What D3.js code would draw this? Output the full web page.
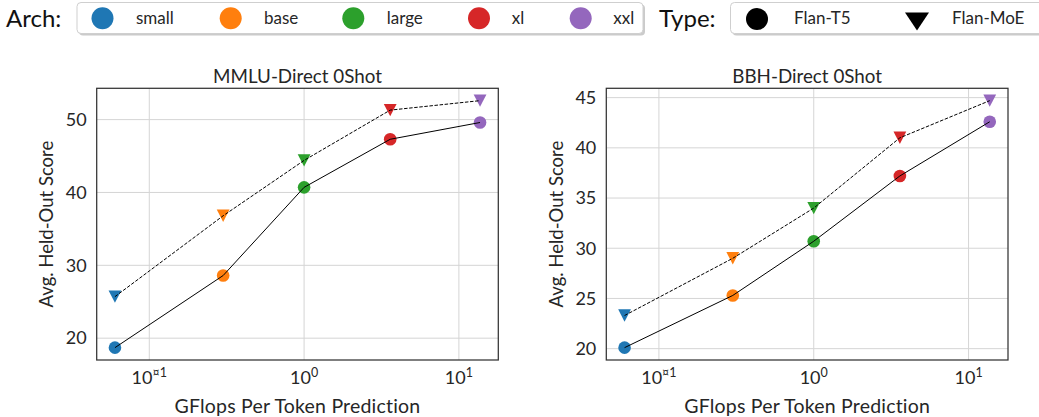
<!DOCTYPE html>
<html><head><meta charset="utf-8">
<script src="https://cdn.jsdelivr.net/npm/d3@7"></script>
<style>
html,body{margin:0;padding:0;background:#fff;}
svg{display:block;font-family:Lato, "Open Sans", sans-serif;}
</style></head>
<body><svg id="c" width="1039" height="417"></svg>
<script>
// ---- data ----
const archs = ["small", "base", "large", "xl", "xxl"];
const archColors = ["#1f77b4", "#ff7f0e", "#2ca02c", "#d62728", "#9467bd"];
const gflops = [0.06, 0.30, 1.0, 3.6, 13.7];
const types = ["Flan-T5", "Flan-MoE"];
const mmluT5 = [18.7, 28.6, 40.7, 47.3, 49.6];
const mmluMoE = [25.7, 36.8, 44.4, 51.3, 52.6];
const bbhT5 = [20.1, 25.3, 30.7, 37.2, 42.6];
const bbhMoE = [23.3, 29.0, 34.0, 41.0, 44.7];
const xTickValues = [0.1, 1, 10];
const xTickExps = ["¤1", "0", "1"];
const mmluYTicks = [20, 30, 40, 50];
const bbhYTicks = [20, 25, 30, 35, 40, 45];
const titles = ["MMLU-Direct 0Shot", "BBH-Direct 0Shot"];
const xLabel = "GFlops Per Token Prediction";
const yLabel = "Avg. Held-Out Score";

(function () {
const svg = d3.select("#c");
const textCol = "#262626";

function pad(lo, hi, m) { const r = hi - lo; return [lo - r * m, hi + r * m]; }

const panels = [
  {title: titles[0], t5: mmluT5, moe: mmluMoE, yTicks: mmluYTicks, left: 96.7, right: 498.3},
  {title: titles[1], t5: bbhT5, moe: bbhMoE, yTicks: bbhYTicks, left: 606.3, right: 1008}
];
const pTop = 88.3, pBottom = 360;

const lx = pad(Math.log10(d3.min(gflops)), Math.log10(d3.max(gflops)), 0.05);

panels.forEach(p => {
  const x = d3.scaleLog().domain([Math.pow(10, lx[0]), Math.pow(10, lx[1])]).range([p.left, p.right]);
  const all = p.t5.concat(p.moe);
  const y = d3.scaleLinear().domain(pad(d3.min(all), d3.max(all), 0.05)).range([pBottom, pTop]);
  const g = svg.append("g");
  // grid
  g.selectAll(".gx").data(xTickValues).join("line")
    .attr("x1", d => x(d)).attr("x2", d => x(d)).attr("y1", pTop).attr("y2", pBottom)
    .attr("stroke", "#d5d5d5").attr("stroke-width", 1);
  g.selectAll(".gy").data(p.yTicks).join("line")
    .attr("x1", p.left).attr("x2", p.right).attr("y1", d => y(d)).attr("y2", d => y(d))
    .attr("stroke", "#d5d5d5").attr("stroke-width", 1);
  // y tick labels
  g.selectAll(".yt").data(p.yTicks).join("text")
    .attr("x", p.left - 10).attr("y", d => y(d)).attr("dy", "0.35em")
    .attr("text-anchor", "end").attr("font-size", 18).attr("fill", textCol).text(d => d);
  // x tick labels
  xTickValues.forEach((v, i) => {
    const t = g.append("text").attr("x", x(v)).attr("y", 384).attr("text-anchor", "middle")
      .attr("font-size", 18).attr("fill", textCol);
    t.append("tspan").text("10");
    t.append("tspan").attr("dy", -7.5).attr("font-size", 12.5).text(xTickExps[i]);
  });
  // title
  g.append("text").attr("x", (p.left + p.right) / 2).attr("y", 82.5).attr("text-anchor", "middle")
    .attr("font-size", 18.8).attr("fill", textCol).text(p.title);
  // x label
  g.append("text").attr("x", (p.left + p.right) / 2).attr("y", 412.5).attr("text-anchor", "middle")
    .attr("font-size", 19.5).attr("letter-spacing", 0.2).attr("fill", textCol).text(xLabel);
  // y label
  g.append("text").attr("transform", `translate(${p.left - 43.5},${(pTop + pBottom) / 2}) rotate(-90)`)
    .attr("text-anchor", "middle").attr("font-size", 18.5).attr("fill", textCol).text(yLabel);
  // markers
  g.selectAll(".c").data(p.t5).join("circle")
    .attr("cx", (d, i) => x(gflops[i])).attr("cy", d => y(d)).attr("r", 6.3)
    .attr("fill", (d, i) => archColors[i]);
  g.selectAll(".t").data(p.moe).join("path")
    .attr("transform", (d, i) => `translate(${x(gflops[i])},${y(d)})`)
    .attr("d", "M-6.4,-6.2L6.4,-6.2L0,6.2Z")
    .attr("fill", (d, i) => archColors[i]);
  // lines
  const line = d3.line().x((d, i) => x(gflops[i])).y(d => y(d));
  g.append("path").datum(p.t5).attr("d", line).attr("fill", "none").attr("stroke", "#000").attr("stroke-width", 1);
  g.append("path").datum(p.moe).attr("d", line).attr("fill", "none").attr("stroke", "#000")
    .attr("stroke-width", 1).attr("stroke-dasharray", "3.5,1.6");
  // frame
  g.append("rect").attr("x", p.left).attr("y", pTop).attr("width", p.right - p.left).attr("height", pBottom - pTop)
    .attr("fill", "none").attr("stroke", "#333").attr("stroke-width", 1.25);
});

// ---- legends ----
function legendBox(x0, x1) {
  svg.append("rect").attr("x", x0 + 2).attr("y", 4.5).attr("width", x1 - x0).attr("height", 31)
    .attr("rx", 4).attr("fill", "#b5b5b5").attr("opacity", 0.7);
  svg.append("rect").attr("x", x0).attr("y", 2.5).attr("width", x1 - x0).attr("height", 31)
    .attr("rx", 4).attr("fill", "#fff").attr("stroke", "#cfcfcf").attr("stroke-width", 1);
}
svg.append("text").attr("x", 6).attr("y", 27).attr("font-size", 24).attr("fill", "#111").text("Arch:");
legendBox(77, 643);
const archX = [102.5, 230.7, 353.3, 479, 580.7];
const archLabelX = [136, 264, 386.7, 511.7, 613.3];
archs.forEach((a, i) => {
  svg.append("circle").attr("cx", archX[i]).attr("cy", 18.3).attr("r", 11).attr("fill", archColors[i]);
  svg.append("text").attr("x", archLabelX[i]).attr("y", 24).attr("font-size", 17).attr("fill", textCol).text(a);
});
svg.append("text").attr("x", 659).attr("y", 27).attr("font-size", 24).attr("fill", "#111").text("Type:");
legendBox(730.5, 1045);
svg.append("circle").attr("cx", 757).attr("cy", 19).attr("r", 11).attr("fill", "#000");
svg.append("path").attr("transform", "translate(917,21.5)").attr("d", "M-12,-9L12,-9L0,9Z").attr("fill", "#000");
svg.append("text").attr("x", 794).attr("y", 24).attr("font-size", 17).attr("fill", textCol).text(types[0]);
svg.append("text").attr("x", 952).attr("y", 24).attr("font-size", 17).attr("fill", textCol).text(types[1]);
})();
</script></body></html>
